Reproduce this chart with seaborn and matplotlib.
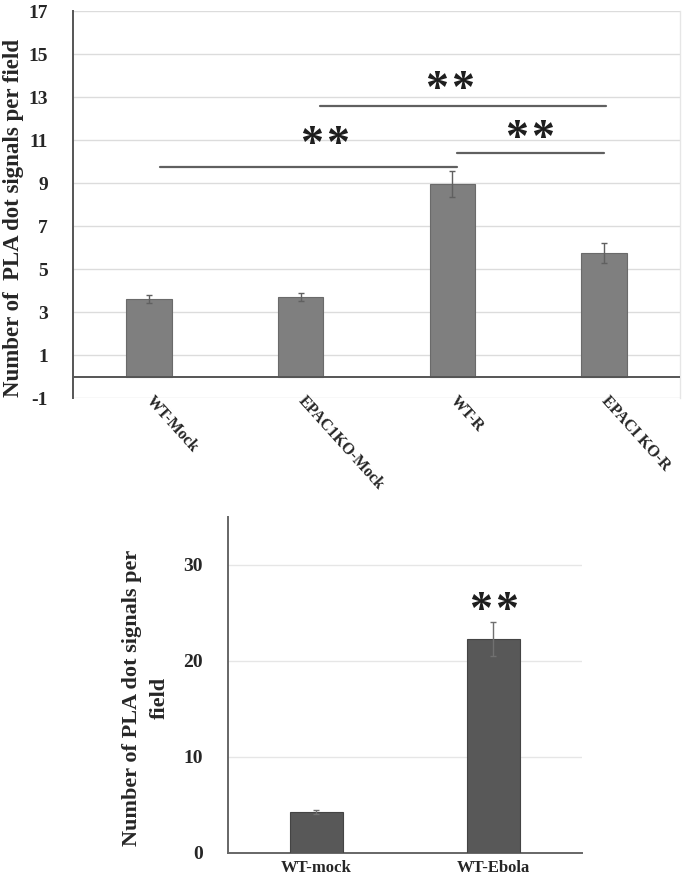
import matplotlib
matplotlib.use("Agg")
import matplotlib.pyplot as plt
import seaborn as sns
import pandas as pd
import numpy as np

# ---- data: top panel ----
top_categories = ["WT-Mock", "EPAC1KO-Mock", "WT-R", "EPACI KO-R"]
top_means = [3.6, 3.7, 8.95, 5.75]
top_errors = [0.2, 0.2, 0.6, 0.45]
top_yticks = [-1, 1, 3, 5, 7, 9, 11, 13, 15, 17]
# significance brackets: (x start, x end, line y, star x, star y)
sig_x_start = [0.07, 1.13, 2.03]
sig_x_end = [2.03, 3.01, 3.00]
sig_line_y = [9.75, 12.6, 10.4]
sig_star_x = [1.16, 1.98, 2.51]
sig_star_y = [11.1, 13.65, 11.4]

# ---- data: bottom panel ----
bot_categories = ["WT-mock", "WT-Ebola"]
bot_means = [4.25, 22.3]
bot_errors = [0.2, 1.8]
bot_yticks = [0, 10, 20, 30]
bot_star_y = [26.0]

sns.set_theme(style="white")
plt.rcParams['font.family'] = ['Liberation Serif', 'DejaVu Serif']

fig = plt.figure(figsize=(6.85, 8.8), dpi=100)


def draw_stars(ax, x, y):
    # two bold asterisks centred on (x, y)
    for dx in (-9.5, 9.5):
        ax.annotate("*", xy=(x, y), xytext=(dx, -6), textcoords="offset points",
                    ha="center", va="center", fontsize=33, fontweight="bold",
                    family="Liberation Serif", color="#1e1e1e", zorder=6)


# ---------------- top panel ----------------
ax1 = fig.add_axes([0.1066, 0.5477, 0.8860, 0.4398])
df_top = pd.DataFrame({"cat": top_categories, "val": top_means})
sns.barplot(data=df_top, x="cat", y="val", ax=ax1, color="#7f7f7f",
            width=0.3, errorbar=None, saturation=1,
            edgecolor="#6a6a6a", linewidth=0.8, zorder=3)
ax1.errorbar(np.arange(len(top_categories)), top_means, yerr=top_errors,
             fmt="none", ecolor="#606060", elinewidth=1.0, capsize=2, capthick=1.0, zorder=4)
ax1.set_xlim(-0.5, 3.5)
ax1.set_ylim(-1, 17)
ax1.set_yticks(top_yticks)
ax1.set_yticklabels([str(v) for v in top_yticks], fontsize=14, fontweight="bold")
for y in top_yticks:
    ax1.axhline(y, color="#dcdcdc", lw=1.0, zorder=1)
ax1.axhline(0, color="#555555", lw=1.4, zorder=5)
ax1.set_xticks(range(len(top_categories)))
ax1.set_xticklabels(top_categories, rotation=-48, ha="left", va="center",
                    rotation_mode="anchor", fontsize=11.5, fontweight="bold")
ax1.tick_params(axis="x", length=0, pad=0)
ax1.tick_params(axis="y", length=0, pad=18)
ax1.set_xlabel("")
ax1.set_ylabel("Number of  PLA dot signals per field", fontsize=16.5, fontweight="bold")
ax1.yaxis.set_label_coords(-0.081, 0.465)
for s in ["top", "bottom"]:
    ax1.spines[s].set_visible(False)
ax1.spines["right"].set_color("#e6e6e6")
ax1.spines["right"].set_linewidth(1.0)
ax1.spines["left"].set_color("#555555")
ax1.spines["left"].set_linewidth(1.4)

for xs, xe, ly, sx, sy in zip(sig_x_start, sig_x_end, sig_line_y, sig_star_x, sig_star_y):
    ax1.plot([xs, xe], [ly, ly], color="#606060", lw=1.6, zorder=4)
    draw_stars(ax1, sx, sy)

# ---------------- bottom panel ----------------
ax2 = fig.add_axes([0.3328, 0.0307, 0.5168, 0.3818])
df_bot = pd.DataFrame({"cat": bot_categories, "val": bot_means})
sns.barplot(data=df_bot, x="cat", y="val", ax=ax2, color="#585858",
            width=0.3, errorbar=None, saturation=1,
            edgecolor="#444444", linewidth=0.8, zorder=3)
ax2.errorbar(np.arange(len(bot_categories)), bot_means, yerr=bot_errors,
             fmt="none", ecolor="#707070", elinewidth=1.0, capsize=2, capthick=1.0, zorder=4)
ax2.set_xlim(-0.5, 1.5)
ax2.set_ylim(0, 35)
ax2.set_yticks(bot_yticks)
ax2.set_yticklabels([str(v) for v in bot_yticks], fontsize=14, fontweight="bold")
for y in bot_yticks[1:]:
    ax2.axhline(y, color="#e6e6e6", lw=1.0, zorder=1)
ax2.set_xticks(range(len(bot_categories)))
ax2.set_xticklabels(bot_categories, fontsize=12, fontweight="bold")
ax2.tick_params(axis="x", length=0, pad=5)
ax2.tick_params(axis="y", length=0, pad=18)
ax2.set_xlabel("")
ax2.set_ylabel("Number of PLA dot signals per\nfield", fontsize=16, fontweight="bold",
               linespacing=1.55)
ax2.yaxis.set_label_coords(-0.164, 0.461)
for s in ["top", "right"]:
    ax2.spines[s].set_visible(False)
for s in ["left", "bottom"]:
    ax2.spines[s].set_color("#666666")
    ax2.spines[s].set_linewidth(1.4)
draw_stars(ax2, 1, bot_star_y[0])

fig.savefig("out.png", dpi=100)
